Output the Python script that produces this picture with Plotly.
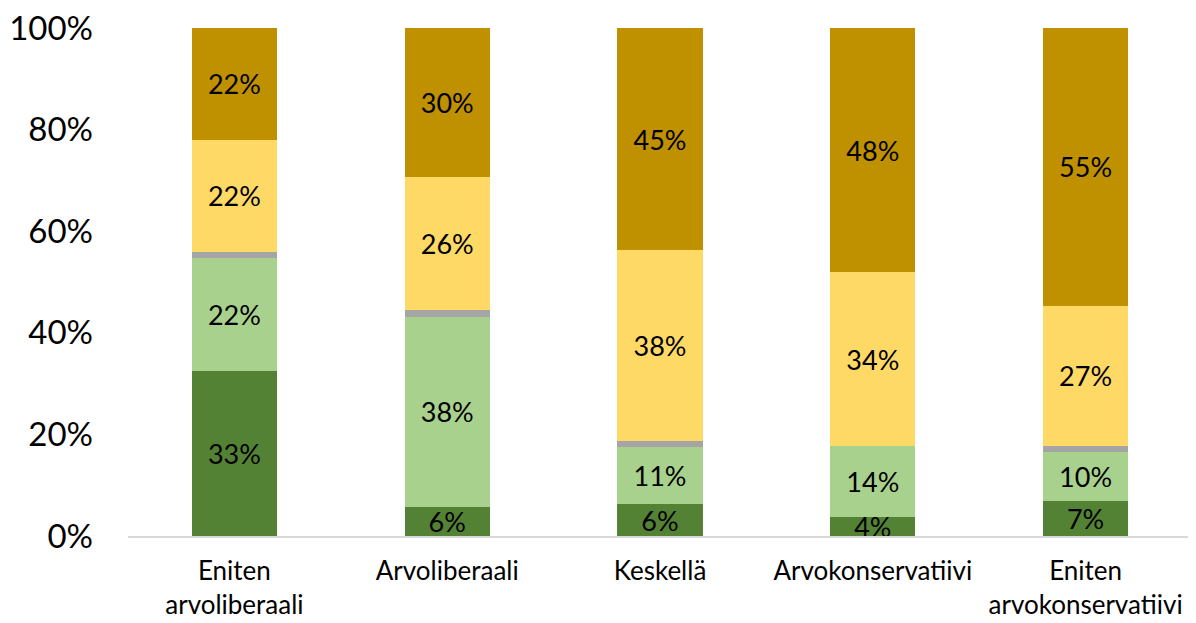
import plotly.graph_objects as go

categories = ["Eniten<br>arvoliberaali", "Arvoliberaali", "Keskellä", "Arvokonservatiivi", "Eniten<br>arvokonservatiivi"]

dark_green = [32.5, 5.7, 6.3, 3.8, 6.9]
light_green = [22.2, 37.5, 11.3, 13.9, 9.6]
gray = [1.3, 1.2, 1.1, 0.0, 1.3]
yellow = [22.0, 26.2, 37.6, 34.2, 27.5]
gold = [22.0, 29.4, 43.7, 48.1, 54.7]

dark_green_labels = ["33%", "6%", "6%", "4%", "7%"]
light_green_labels = ["22%", "38%", "11%", "14%", "10%"]
yellow_labels = ["22%", "26%", "38%", "34%", "27%"]
gold_labels = ["22%", "30%", "45%", "48%", "55%"]

series = [
    ("dark_green", dark_green, dark_green_labels, "#548235"),
    ("light_green", light_green, light_green_labels, "#a9d18e"),
    ("gray", gray, None, "#a5a5a5"),
    ("yellow", yellow, yellow_labels, "#ffd966"),
    ("gold", gold, gold_labels, "#bf9000"),
]

FONT = "Lato, 'Open Sans', sans-serif"

fig = go.Figure()
for name, vals, labels, color in series:
    fig.add_trace(go.Bar(
        x=categories,
        y=[v / 100 for v in vals],
        name=name,
        marker=dict(color=color, line=dict(width=0)),
        text=labels if labels else None,
        textposition="inside" if labels else "none",
        insidetextanchor="middle",
        textangle=0,
        textfont=dict(family=FONT, size=27, color="black"),
        constraintext="none",
        cliponaxis=False,
        hoverinfo="skip",
    ))

fig.update_layout(
    barmode="stack",
    bargap=0.6,
    width=1196,
    height=623,
    margin=dict(l=120, r=12, t=20, b=95),
    plot_bgcolor="white",
    paper_bgcolor="white",
    showlegend=False,
    uniformtext=dict(mode="show", minsize=27),
    font=dict(family=FONT, color="black"),
)
fig.update_yaxes(
    range=[0, 1],
    tickvals=[0, 0.2, 0.4, 0.6, 0.8, 1.0],
    ticktext=["0%", "20%", "40%", "60%", "80%", "100%"],
    tickfont=dict(family=FONT, size=33, color="black"),
    showgrid=False,
    zeroline=False,
    showline=False,
    ticks="",
    ticklabelstandoff=34,
    ticklabeloverflow="allow",
    automargin=False,
)
fig.update_xaxes(
    tickfont=dict(family=FONT, size=26, color="black"),
    showline=True,
    linecolor="#d9d9d9",
    linewidth=2,
    ticks="",
    showgrid=False,
    ticklabelstandoff=11,
    ticklabeloverflow="allow",
    automargin=False,
)

fig.write_html("out.html")
